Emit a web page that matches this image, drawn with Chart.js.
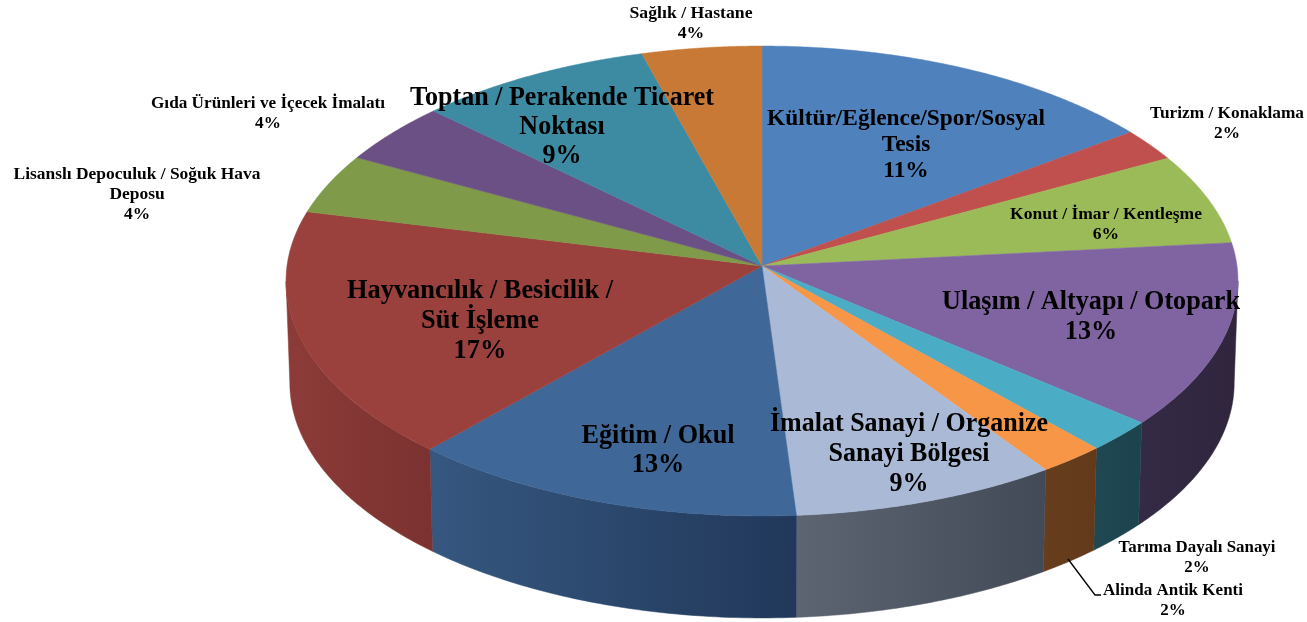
<!DOCTYPE html>
<html lang="tr">
<head>
<meta charset="utf-8">
<title>Pasta grafik</title>
<script src="https://cdn.jsdelivr.net/npm/chart.js@4/dist/chart.umd.min.js"></script>
<style>
  html, body { margin: 0; padding: 0; background: #fff; overflow: hidden; }
  #kutu { position: relative; width: 1307px; height: 622px; }
</style>
</head>
<body>
<div id="kutu"><canvas id="pasta"></canvas></div>
<script>
// clockwise from 12 o'clock
const categories = [
  ['Kültür/Eğlence/Spor/Sosyal', 'Tesis'],
  ['Turizm / Konaklama'],
  ['Konut / İmar / Kentleşme'],
  ['Ulaşım / Altyapı / Otopark'],
  ['Tarıma Dayalı Sanayi'],
  ['Alinda Antik Kenti'],
  ['İmalat Sanayi / Organize', 'Sanayi Bölgesi'],
  ['Eğitim / Okul'],
  ['Hayvancılık / Besicilik /', 'Süt İşleme'],
  ['Lisanslı Depoculuk / Soğuk Hava', 'Deposu'],
  ['Gıda Ürünleri ve İçecek İmalatı'],
  ['Toptan / Perakende Ticaret', 'Noktası'],
  ['Sağlık / Hastane']
];
// slice sizes, the printed percents are a bit different
const sliceValues = [14.9, 2.23, 6.27, 12.7, 2.2, 2.13, 8.49, 12.68, 17.18, 4.14, 4.24, 8.51, 4.33];
const printedPercents = [11, 2, 6, 13, 2, 2, 9, 13, 17, 4, 4, 9, 4];

const topColors = ['#4f81bd', '#c0504d', '#9bbb59', '#8064a2', '#4bacc6', '#f79646', '#a9b9d6',
  '#3f6797', '#9a403d', '#7f9a48', '#6a5084', '#3c8ba3', '#c87935'];
const wallLeft = ['#35537a', '#7c3230', '#647a3a', '#352a45', '#1f4852', '#673e1d', '#5e6572',
  '#365780', '#8c3b38', '#53642f', '#453455', '#275a6a', '#824f23'];
const wallRight = ['#35537a', '#7c3230', '#647a3a', '#30253d', '#1d434d', '#623a1b', '#434a57',
  '#21385a', '#7b3230', '#53642f', '#453455', '#275a6a', '#824f23'];

// x = centre, y = first baseline, h = line step, size = font px, w = width of the first line
const labelPlace = [
  { x: 906, y: 125, h: 26, size: 24, w: 278 },
  { x: 1227, y: 118, h: 20, size: 16, w: 154 },
  { x: 1106, y: 219, h: 20, size: 16, w: 192 },
  { x: 1091, y: 309, h: 30, size: 27, w: 298 },
  { x: 1197, y: 552, h: 20, size: 16, w: 157 },
  { x: 1173, y: 595, h: 20, size: 16, w: 140 },
  { x: 909, y: 431, h: 30, size: 27, w: 278 },
  { x: 658, y: 443, h: 29, size: 27, w: 153 },
  { x: 480, y: 298, h: 30, size: 27, w: 266 },
  { x: 137, y: 179, h: 20, size: 16, w: 247 },
  { x: 268, y: 108, h: 20, size: 16, w: 234 },
  { x: 562, y: 105, h: 29, size: 28, w: 304 },
  { x: 691, y: 18, h: 20, size: 16, w: 123 }
];

// perspective of the disc: unit circle to screen
const BX = 475, AY = 234, K = 0.0638, DEPTH = 102;

function rimPoint(a, t, bottom) {
  const c = Math.cos(t), s = Math.sin(t), w = 1 - K * s;
  if (bottom) return [a.x + 0.992 * BX * c / w, a.y + AY * s / w + DEPTH];
  return [a.x + BX * c / w, a.y + AY * s / w];
}

function drawWalls(ctx, arcs) {
  const front0 = Math.asin(K), front1 = Math.PI - front0;
  arcs.forEach(function(a, i) {
    const t0 = Math.max(a.startAngle, front0), t1 = Math.min(a.endAngle, front1);
    if (t1 <= t0) return;
    const pts = [], pts2 = [];
    for (let n = 0; n <= 60; n++) {
      const t = t0 + (t1 - t0) * n / 60;
      pts.push(rimPoint(a, t, false));
      pts2.push(rimPoint(a, t, true));
    }
    const xs = pts.map(function(p) { return p[0]; });
    const grad = ctx.createLinearGradient(Math.min.apply(null, xs), 0, Math.max.apply(null, xs), 0);
    grad.addColorStop(0, wallLeft[i]);
    grad.addColorStop(1, wallRight[i]);
    ctx.beginPath();
    pts.forEach(function(p, n) { n ? ctx.lineTo(p[0], p[1]) : ctx.moveTo(p[0], p[1]); });
    pts2.reverse().forEach(function(p) { ctx.lineTo(p[0], p[1]); });
    ctx.closePath();
    ctx.fillStyle = grad;
    ctx.strokeStyle = grad;
    ctx.lineWidth = 0.5;
    ctx.fill();
    ctx.stroke();
  });
}

function drawTops(ctx, arcs) {
  arcs.forEach(function(a, i) {
    ctx.beginPath();
    ctx.moveTo(a.x, a.y);
    for (let n = 0; n <= 120; n++) {
      const p = rimPoint(a, a.startAngle + (a.endAngle - a.startAngle) * n / 120, false);
      ctx.lineTo(p[0], p[1]);
    }
    ctx.closePath();
    ctx.fillStyle = topColors[i];
    ctx.strokeStyle = topColors[i];
    ctx.lineWidth = 0.5;
    ctx.fill();
    ctx.stroke();
  });
}

function drawLabels(ctx) {
  ctx.fillStyle = '#000';
  ctx.textAlign = 'center';
  ctx.textBaseline = 'alphabetic';
  categories.forEach(function(lines, i) {
    const p = labelPlace[i];
    const rows = lines.concat([printedPercents[i] + '%']);
    ctx.font = 'bold ' + p.size + 'px "Liberation Serif", serif';
    const squeeze = p.w / ctx.measureText(rows[0]).width;
    ctx.save();
    ctx.translate(p.x, 0);
    ctx.scale(squeeze, 1);
    rows.forEach(function(r, n) { ctx.fillText(r, 0, p.y + n * p.h); });
    ctx.restore();
  });
  // leader line of Alinda
  ctx.beginPath();
  ctx.moveTo(1068, 559);
  ctx.lineTo(1095, 595);
  ctx.lineTo(1101, 595);
  ctx.strokeStyle = '#000';
  ctx.lineWidth = 1.3;
  ctx.stroke();
}

const pie3d = {
  id: 'pie3d',
  beforeDatasetsDraw: function(chart) {
    const arcs = chart.getDatasetMeta(0).data;
    drawWalls(chart.ctx, arcs);
    drawTops(chart.ctx, arcs);
    drawLabels(chart.ctx);
    return false;
  }
};

new Chart(document.getElementById('pasta'), {
  type: 'pie',
  data: {
    labels: categories.map(function(c) { return c.join(' '); }),
    datasets: [{ data: sliceValues, backgroundColor: topColors, borderWidth: 0 }]
  },
  options: {
    responsive: true,
    maintainAspectRatio: false,
    animation: false,
    layout: { padding: { left: 217, bottom: 90 } },
    plugins: { legend: { display: false }, tooltip: { enabled: false } }
  },
  plugins: [pie3d]
});
</script>
</body>
</html>
